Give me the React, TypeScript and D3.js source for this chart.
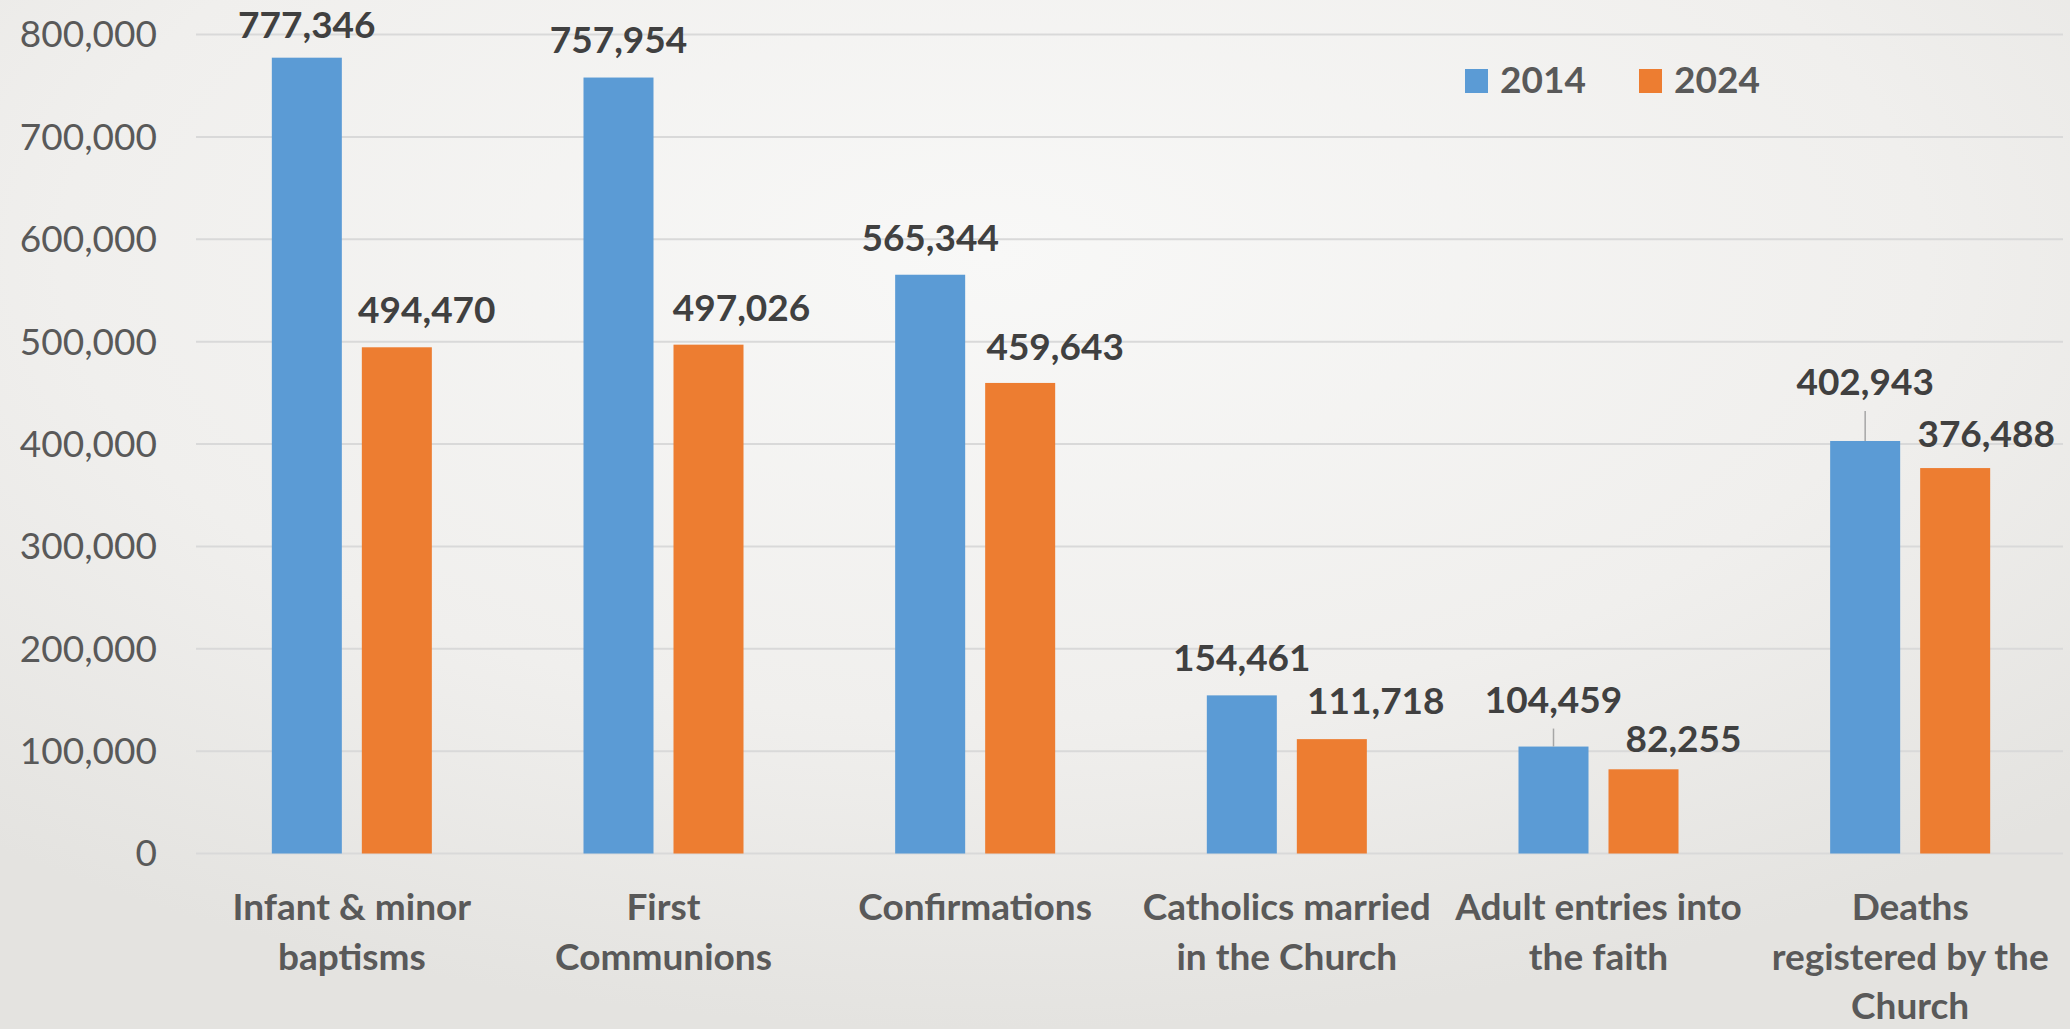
import React from "react";
import * as d3 from "d3";

const categories = [
  "Infant & minor baptisms",
  "First Communions",
  "Confirmations",
  "Catholics married in the Church",
  "Adult entries into the faith",
  "Deaths registered by the Church",
];
const categoryLines = [
  ["Infant & minor", "baptisms"],
  ["First", "Communions"],
  ["Confirmations"],
  ["Catholics married", "in the Church"],
  ["Adult entries into", "the faith"],
  ["Deaths", "registered by the", "Church"],
];
const seriesNames = ["2014", "2024"];
const values2014 = [777346, 757954, 565344, 154461, 104459, 402943];
const values2024 = [494470, 497026, 459643, 111718, 82255, 376488];
const yTicks = [0, 100000, 200000, 300000, 400000, 500000, 600000, 700000, 800000];

// label placement nudges (layout only)
const nudge2014 = [
  [0, 4], [0, -1], [0, 0], [0, 0], [0, -10], [0, -22],
];
const nudge2024 = [
  [30, 0], [33, 0], [35, 1], [44, -1], [40, 7], [31, 3],
];

const W = 2070;
const H = 1029;
const FONT = "Lato, 'Open Sans', sans-serif";
const COLORS = ["#5B9BD5", "#ED7D31"];

export default function App() {
  const x0 = d3
    .scaleBand<string>()
    .domain(categories)
    .range([196, 2066])
    .paddingInner(0.4866)
    .paddingOuter(0.2433);
  const x1 = d3
    .scaleBand<string>()
    .domain(seriesNames)
    .range([0, x0.bandwidth()])
    .paddingInner(0.2222)
    .paddingOuter(0);
  const y = d3.scaleLinear().domain([0, 800000]).range([853.5, 34.5]);
  const fmt = d3.format(",");

  const seriesValues = [values2014, values2024];
  const nudges = [nudge2014, nudge2024];

  return (
    <div style={{ position: "absolute", left: 0, top: 0 }}>
      <svg width={W} height={H} style={{ display: "block" }}>
        <defs>
          <radialGradient id="bg" cx="0.48" cy="0.25" r="0.75">
            <stop offset="0" stopColor="#f8f8f7" />
            <stop offset="0.6" stopColor="#f0efed" />
            <stop offset="1" stopColor="#e4e3e0" />
          </radialGradient>
        </defs>
        <rect x={0} y={0} width={W} height={H} fill="url(#bg)" />

        {/* gridlines */}
        {yTicks.map((t) => (
          <line
            key={"g" + t}
            x1={196}
            x2={2063}
            y1={y(t)}
            y2={y(t)}
            stroke="#d9d9d9"
            strokeWidth={2}
          />
        ))}

        {/* y-axis labels */}
        {yTicks.map((t) => (
          <text
            key={"yl" + t}
            x={157}
            y={y(t)}
            dy="0.35em"
            textAnchor="end"
            fontFamily={FONT}
            fontSize={37}
            fill="#595959"
          >
            {fmt(t)}
          </text>
        ))}

        {/* bars */}
        {categories.map((c, i) =>
          seriesNames.map((s, k) => {
            const v = seriesValues[k][i];
            return (
              <rect
                key={c + s}
                x={(x0(c) as number) + (x1(s) as number)}
                y={y(v)}
                width={x1.bandwidth()}
                height={y(0) - y(v)}
                fill={COLORS[k]}
              />
            );
          })
        )}

        {/* data labels */}
        {categories.map((c, i) =>
          seriesNames.map((s, k) => {
            const v = seriesValues[k][i];
            const [dx, dy] = nudges[k][i];
            const cx = (x0(c) as number) + (x1(s) as number) + x1.bandwidth() / 2;
            const baseline = y(v) - 24 + dy;
            return (
              <g key={"l" + c + s}>
                {dy < -5 && (
                  <line
                    x1={cx}
                    x2={cx}
                    y1={y(v)}
                    y2={baseline + 16}
                    stroke="#a6a6a6"
                    strokeWidth={1.5}
                  />
                )}
                <text
                  x={cx + dx}
                  y={baseline}
                  textAnchor="middle"
                  fontFamily={FONT}
                  fontWeight={700}
                  fontSize={37}
                  fill="#404040"
                >
                  {fmt(v)}
                </text>
              </g>
            );
          })
        )}

        {/* category labels */}
        {categories.map((c, i) => {
          const cx = (x0(c) as number) + x0.bandwidth() / 2;
          return (
            <text
              key={"c" + c}
              x={cx}
              y={920}
              textAnchor="middle"
              fontFamily={FONT}
              fontWeight={700}
              fontSize={37}
              fill="#595959"
            >
              {categoryLines[i].map((line, j) => (
                <tspan key={j} x={cx} y={920 + j * 49.5}>
                  {line}
                </tspan>
              ))}
            </text>
          );
        })}

        {/* legend */}
        {seriesNames.map((s, k) => {
          const lx = 1465 + k * 174;
          return (
            <g key={"lg" + s}>
              <rect x={lx} y={69} width={23} height={24} fill={COLORS[k]} />
              <text
                x={lx + 35}
                y={93}
                fontFamily={FONT}
                fontWeight={700}
                fontSize={37}
                fill="#595959"
              >
                {s}
              </text>
            </g>
          );
        })}
      </svg>
    </div>
  );
}
